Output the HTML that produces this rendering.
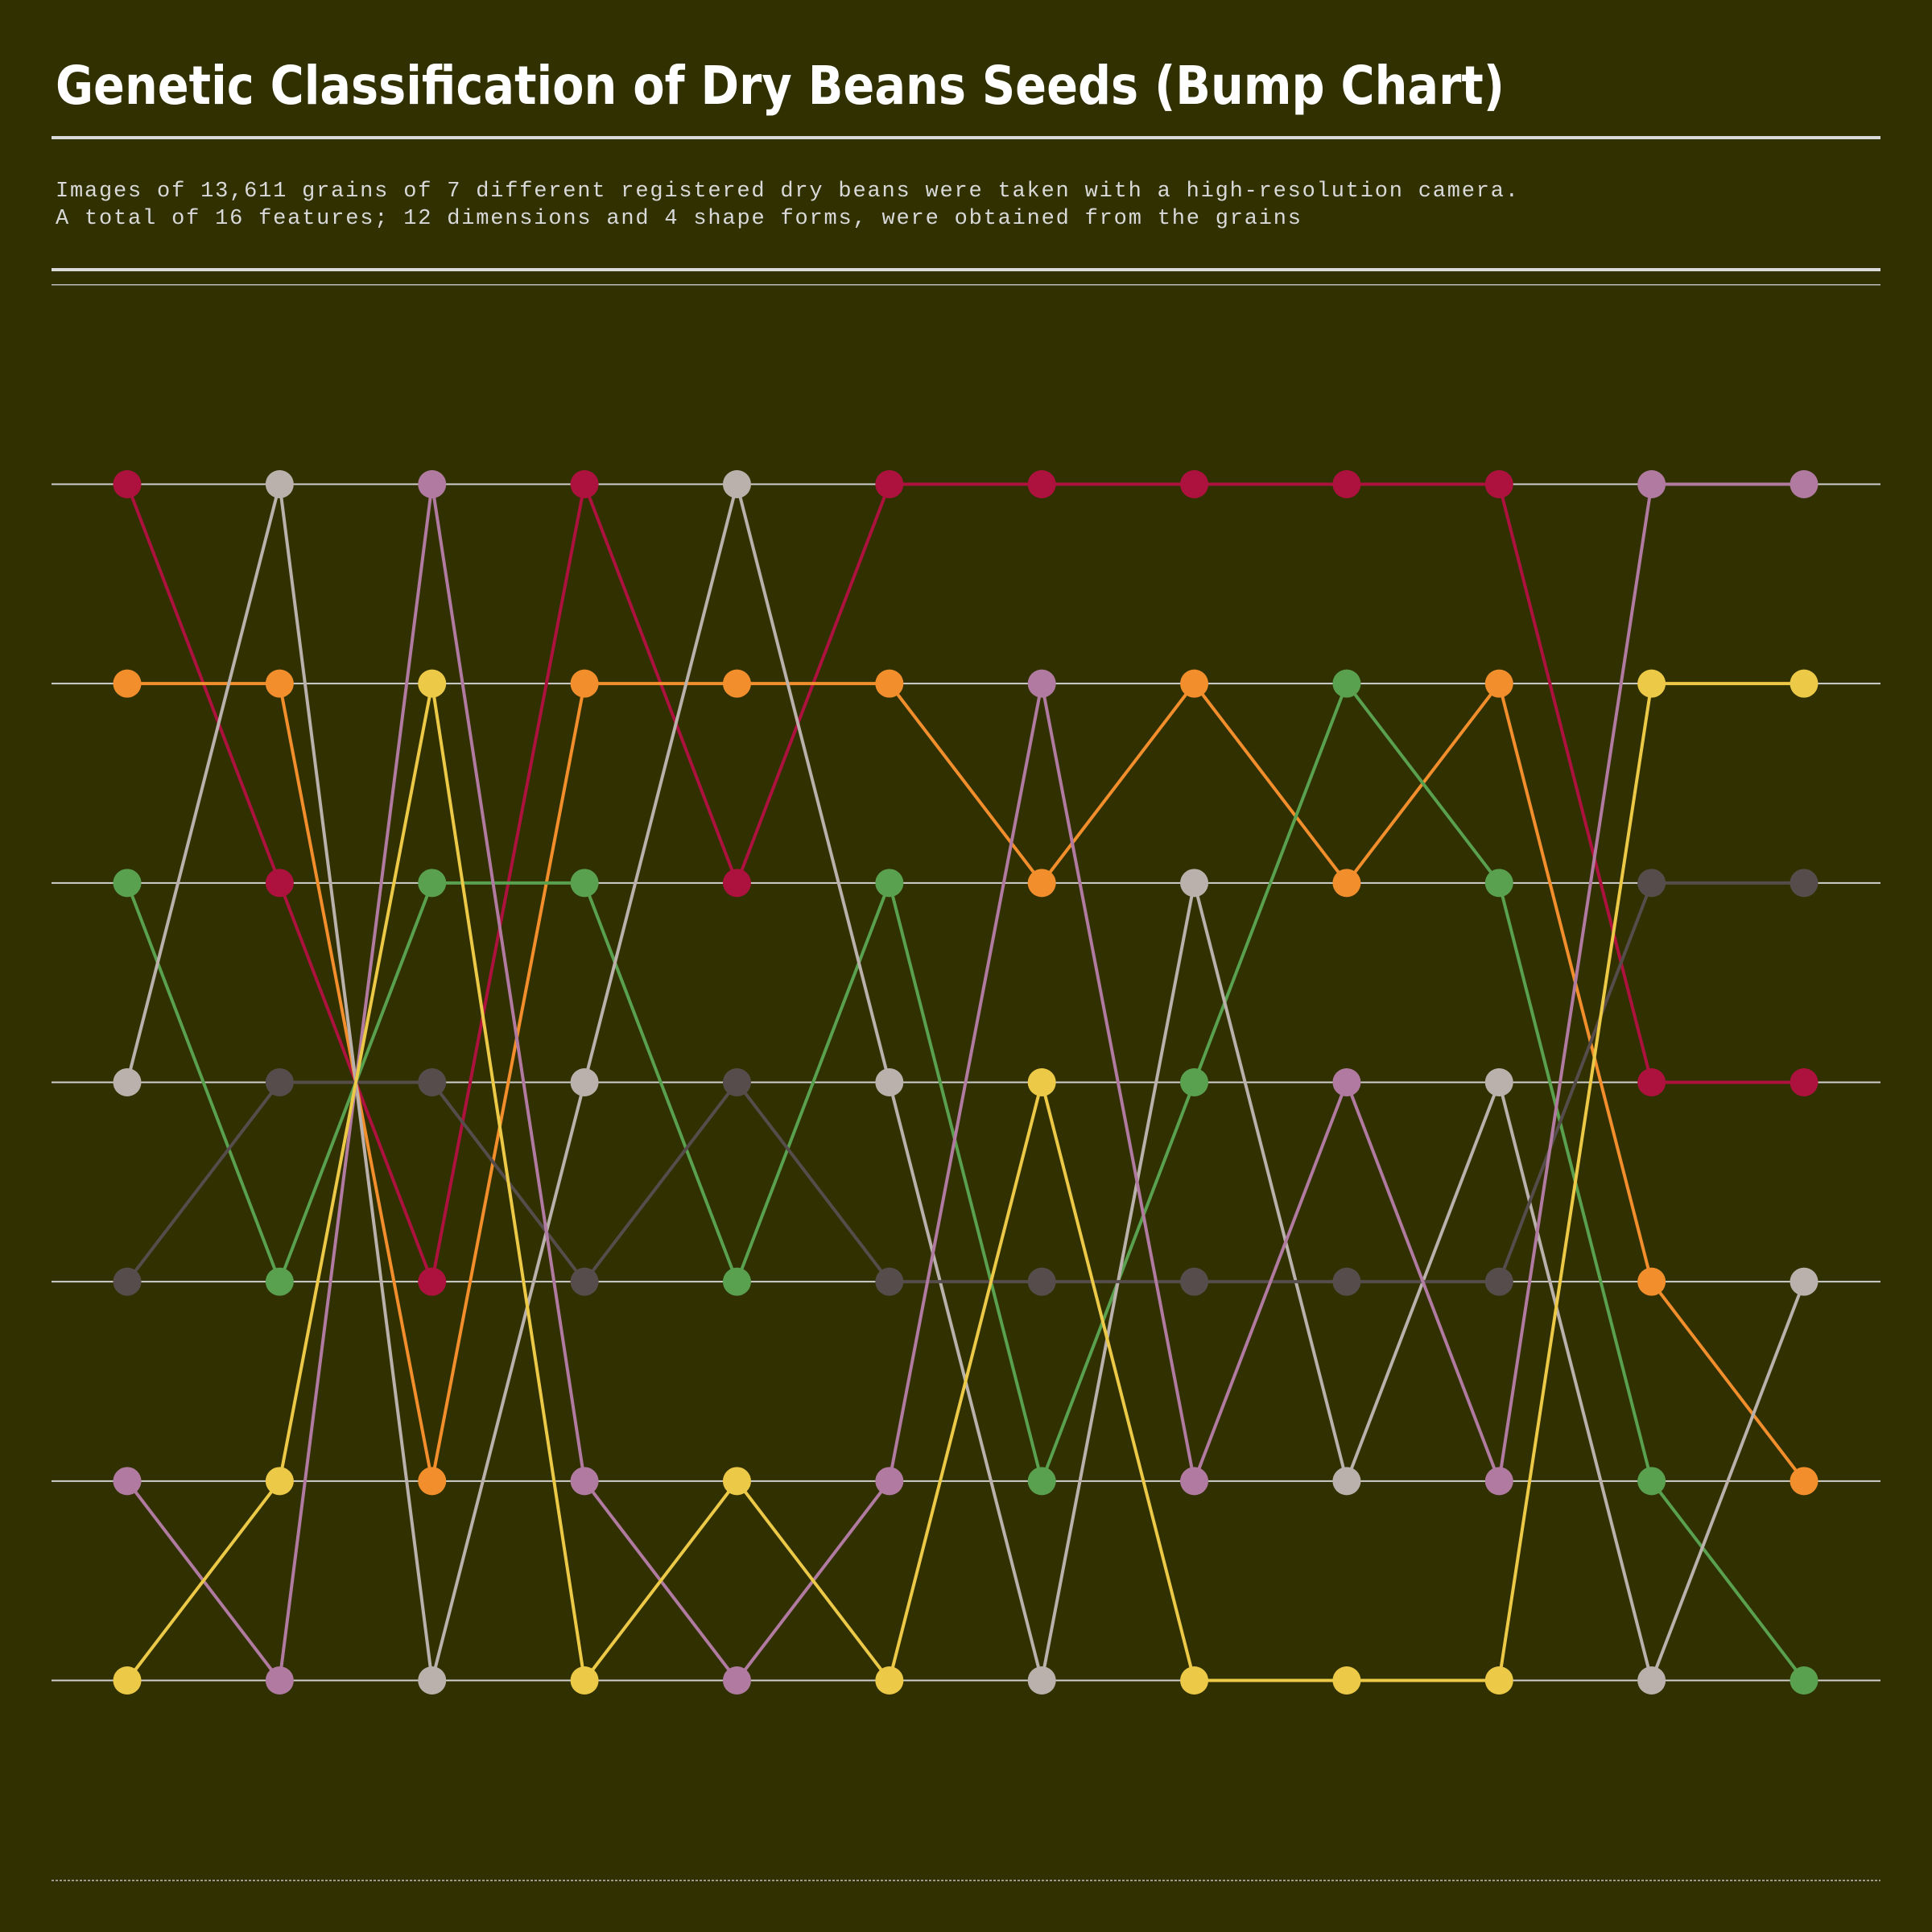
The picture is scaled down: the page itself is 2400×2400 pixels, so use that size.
<!DOCTYPE html>
<html><head><meta charset="utf-8"><style>
html,body{margin:0;padding:0;background:#303000;}
svg{display:block;}
</style></head><body>
<svg id="chart" width="2400" height="2400" viewBox="0 0 2400 2400" xmlns="http://www.w3.org/2000/svg">
<rect x="0" y="0" width="2400" height="2400" fill="#303000"/>
<text x="69" y="129" fill="#ffffff" font-family="'DejaVu Sans Condensed','DejaVu Sans',sans-serif" font-weight="bold" font-size="66" textLength="1800" lengthAdjust="spacingAndGlyphs">Genetic Classification of Dry Beans Seeds (Bump Chart)</text>
<rect x="64" y="169" width="2272" height="4" fill="#d9d9d9"/>
<text x="69" y="244" fill="#d9d9d9" font-family="'Liberation Mono',monospace" font-size="27" textLength="1817" lengthAdjust="spacing">Images of 13,611 grains of 7 different registered dry beans were taken with a high-resolution camera.</text>
<text x="69" y="278" fill="#d9d9d9" font-family="'Liberation Mono',monospace" font-size="27" textLength="1547" lengthAdjust="spacing">A total of 16 features; 12 dimensions and 4 shape forms, were obtained from the grains</text>
<rect x="64" y="333" width="2272" height="4" fill="#d9d9d9"/>
<rect x="64" y="353" width="2272" height="1.5" fill="#bbbbbb"/>
<line x1="64" y1="2336" x2="2336" y2="2336" stroke="#bbbbbb" stroke-width="1.5" stroke-dasharray="3,2"/>
<g id="grid"></g>
<g id="lines"></g>
<g id="dots"></g>
</svg>
<script>
const columns = [1,2,3,4,5,6,7,8,9,10,11,12];
const seriesNames = ["crimson","orange","green","lightgray","dark","pink","yellow"];
const rankCrimson   = [1,3,5,1,3,1,1,1,1,1,4,4];
const rankOrange    = [2,2,6,2,2,2,3,2,3,2,5,6];
const rankGreen     = [3,5,3,3,5,3,6,4,2,3,6,7];
const rankLightgray = [4,1,7,4,1,4,7,3,6,4,7,5];
const rankDark      = [5,4,4,5,4,5,5,5,5,5,3,3];
const rankPink      = [6,7,1,6,7,6,2,6,4,6,1,1];
const rankYellow    = [7,6,2,7,6,7,4,7,7,7,2,2];
const ranks = [1,2,3,4,5,6,7];
const colors = ["#ad123e","#f28e2b","#59a14f","#bab0ac","#574c4c","#b07aa1","#edc948"];
const allRanks = [rankCrimson,rankOrange,rankGreen,rankLightgray,rankDark,rankPink,rankYellow];

const NS="http://www.w3.org/2000/svg";
function xPos(i){return 158 + (i)*(2241-158)/(columns.length-1);}
function yPos(r){return 601.5 + (r-1)*(2087.5-601.5)/(ranks.length-1);}

const grid=document.getElementById('grid');
ranks.forEach(r=>{
  const l=document.createElementNS(NS,'line');
  l.setAttribute('x1',64);l.setAttribute('x2',2336);
  l.setAttribute('y1',yPos(r));l.setAttribute('y2',yPos(r));
  l.setAttribute('stroke','#d0d0d0');l.setAttribute('stroke-width',2);
  
  
  grid.appendChild(l);
});
const lines=document.getElementById('lines');
const dots=document.getElementById('dots');
allRanks.forEach((arr,s)=>{
  const p=document.createElementNS(NS,'polyline');
  p.setAttribute('points',arr.map((r,i)=>xPos(i)+','+yPos(r)).join(' '));
  p.setAttribute('fill','none');p.setAttribute('stroke',colors[s]);p.setAttribute('stroke-width',4);
  
  
  lines.appendChild(p);
});
allRanks.forEach((arr,s)=>{
  arr.forEach((r,i)=>{
    const c=document.createElementNS(NS,'circle');
    c.setAttribute('cx',xPos(i));c.setAttribute('cy',yPos(r));c.setAttribute('r',17.5);
    c.setAttribute('fill',colors[s]);
    
    
    dots.appendChild(c);
  });
});
</script>
</body></html>
